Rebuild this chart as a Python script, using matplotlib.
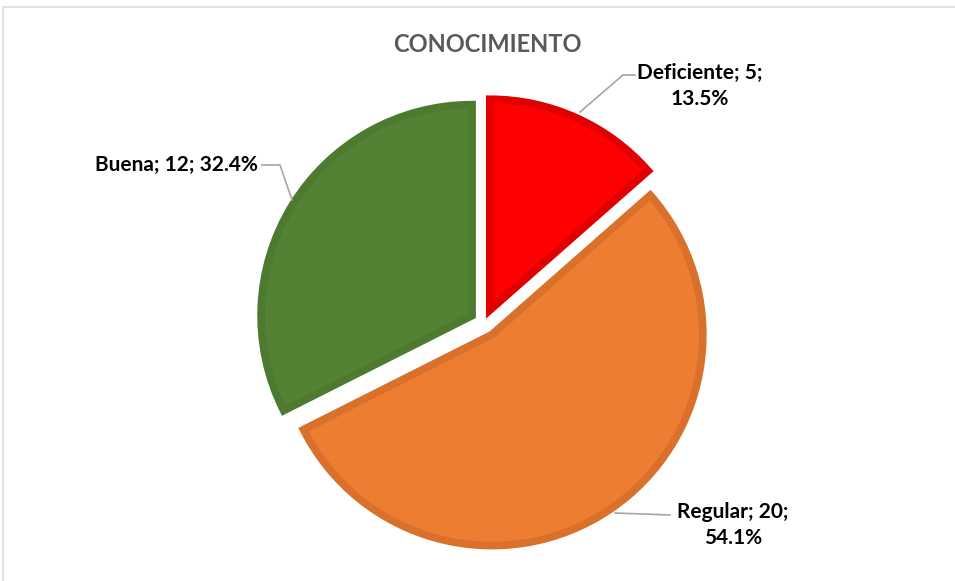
import matplotlib.pyplot as plt
from matplotlib.patches import Rectangle

categorias = ['Deficiente', 'Regular', 'Buena']
valores = [5, 20, 12]
porcentajes = ['13.5%', '54.1%', '32.4%']
colores = ['#FF0000', '#ED7D31', '#548235']
bordes = ['#E00000', '#D9702B', '#4D7A2F']

fig = plt.figure(figsize=(9.55, 5.81), dpi=100)
ax = fig.add_axes([0, 0, 1, 1])

# centro y radio en pixeles (eje y hacia arriba)
cx, cy, r = 484, 258, 211
wedges, _ = ax.pie(valores, colors=colores, startangle=90, counterclock=False,
                   explode=[14, 14, 14], radius=r, center=(cx, cy),
                   wedgeprops=dict(linewidth=5.5, joinstyle='miter'))
for w, b in zip(wedges, bordes):
    w.set_edgecolor(b)

ax.set_xlim(0, 955)
ax.set_ylim(0, 581)
ax.set_aspect('equal')
ax.axis('off')

fuente = dict(family='Lato', weight='bold', fontsize=15, color='black')
H = 581
ax.text(700, H - 86, f'{categorias[0]}; {valores[0]};\n{porcentajes[0]}',
        ha='center', va='center', linespacing=1.4, **fuente)
ax.text(733, H - 525, f'{categorias[1]}; {valores[1]};\n{porcentajes[1]}',
        ha='center', va='center', linespacing=1.4, **fuente)
ax.text(258, H - 165, f'{categorias[2]}; {valores[2]}; {porcentajes[2]}',
        ha='right', va='center', **fuente)

gris = '#A6A6A6'
ax.plot([580, 623, 635], [H - 112, H - 75, H - 75], color=gris, lw=1.2)
ax.plot([615, 670], [H - 513, H - 515], color=gris, lw=1.2)
ax.plot([262, 280, 292], [H - 165, H - 165, H - 200], color=gris, lw=1.2)

ax.text(487, H - 44, 'CONOCIMIENTO', ha='center', va='center',
        family='Lato', weight='bold', fontsize=17, color='#595959')

fig.patches.append(Rectangle((3 / 955, -0.1), 1.1, (581 - 7) / 581 + 0.1,
                             transform=fig.transFigure, fill=False,
                             edgecolor='#D9D9D9', lw=1.2))

fig.savefig('out.png', dpi=100)
